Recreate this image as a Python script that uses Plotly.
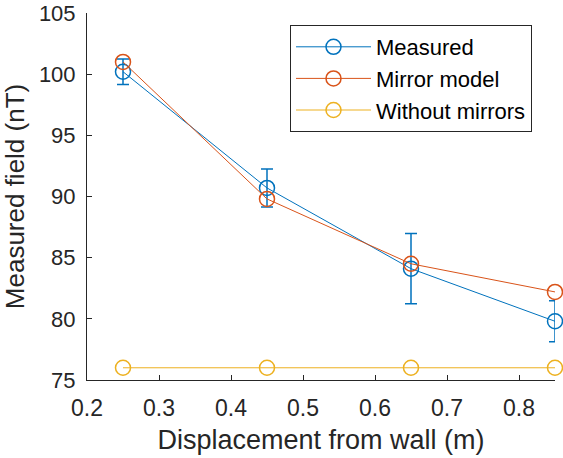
import plotly.graph_objects as go

x_disp = [0.25, 0.45, 0.65, 0.85]
measured = [100.2, 90.7, 84.1, 79.8]
measured_err = [1.05, 1.55, 2.87, 1.68]
mirror_model = [101.0, 89.8, 84.5, 82.2]
without_mirrors = [76.0, 76.0, 76.0, 76.0]

x_ticks = [0.2, 0.3, 0.4, 0.5, 0.6, 0.7, 0.8]
y_ticks = [75, 80, 85, 90, 95, 100, 105]

BLUE = "#0072BD"
ORANGE = "#D95319"
YELLOW = "#EDB120"
AX = "#262626"
FONT = "Liberation Sans, Arial, Helvetica, sans-serif"

T, B = 13, 78
PH = 458 - T - B

fig = go.Figure()
fig.add_trace(go.Scatter(
    x=x_disp, y=measured, name="Measured", mode="lines+markers",
    line=dict(color=BLUE, width=1),
    marker=dict(symbol="circle-open", size=15, color=BLUE, line=dict(width=1.5, color=BLUE)),
    error_y=dict(type="data", array=measured_err, visible=True, color=BLUE, thickness=1.5, width=6),
    legendgroup="a", cliponaxis=False,
))
fig.add_trace(go.Scatter(
    x=x_disp, y=mirror_model, name="Mirror model", mode="lines+markers",
    line=dict(color=ORANGE, width=1),
    marker=dict(symbol="circle-open", size=15, color=ORANGE, line=dict(width=1.5, color=ORANGE)),
    legendgroup="b", cliponaxis=False,
))
fig.add_trace(go.Scatter(
    x=x_disp, y=without_mirrors, name="Without mirrors", mode="lines+markers",
    line=dict(color=YELLOW, width=1),
    marker=dict(symbol="circle-open", size=15, color=YELLOW, line=dict(width=1.5, color=YELLOW)),
    legendgroup="c", cliponaxis=False,
))

fig.update_layout(
    width=563, height=458,
    margin=dict(l=87, r=8, t=T, b=B, autoexpand=False),
    plot_bgcolor="white", paper_bgcolor="white",
    font=dict(family=FONT, color=AX, size=23),
    showlegend=True,
    legend=dict(
        x=(290 - 87) / 468, y=(458 - B - 25) / PH, xanchor="left", yanchor="top",
        bordercolor=AX, borderwidth=1, bgcolor="white",
        font=dict(size=22, color="black", family=FONT),
        itemwidth=75, tracegroupgap=0,
    ),
    xaxis=dict(
        range=[0.2, 0.85], tickvals=x_ticks, ticktext=[f"{v:.1f}" for v in x_ticks],
        showline=True, linecolor=AX, linewidth=1, ticks="inside", ticklen=5, tickcolor=AX,
        showgrid=False, zeroline=False, mirror=False, automargin=False,
        ticklabelstandoff=7, ticklabeloverflow="allow",
        title=dict(text="Displacement from wall (m)", font=dict(size=27), standoff=10),
        tickfont=dict(size=23),
    ),
    yaxis=dict(
        range=[75, 105], tickvals=y_ticks,
        showline=True, linecolor=AX, linewidth=1, ticks="inside", ticklen=5, tickcolor=AX,
        showgrid=False, zeroline=False, mirror=False, automargin=False,
        ticklabelstandoff=6, ticklabeloverflow="allow",
        title=dict(text="Measured field (nT)", font=dict(size=26), standoff=9),
        tickfont=dict(size=22),
    ),
)

fig.write_html("out.html", config={"displayModeBar": False},
               post_script="document.body.style.margin='0';")
